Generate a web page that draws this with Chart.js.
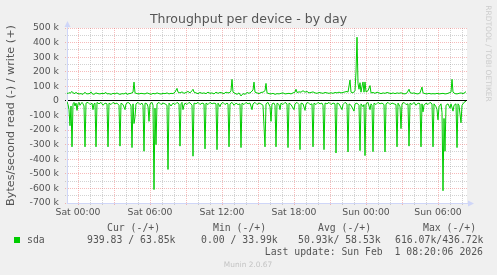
<!DOCTYPE html>
<html>
<head>
<meta charset="utf-8">
<title>Throughput per device - by day</title>
<script src="https://cdn.jsdelivr.net/npm/chart.js@4.4.1/dist/chart.umd.min.js"></script>
<style>
  html, body { margin: 0; padding: 0; background: #f0f0f0; }
  canvas { display: block; }
</style>
</head>
<body>
<canvas id="chart" width="497" height="275"></canvas>
<script>
// time is counted in 5-minute slots from Sat 00:00 (slot 72 = Sat 06:00)
// values in k (bytes/second / 1000), read plotted below zero
const readSlots = [
  -11, -10, -9, -8, -7, -6, -5, -4, -3, -2,
  -1, 0, 1, 2, 4, 5, 6, 7, 8, 10,
  12, 14, 15, 16, 17, 18, 19, 21, 23, 25,
  27, 29, 30, 31, 33, 35, 37, 39, 41, 42,
  43, 45, 47, 48, 50, 52, 53, 54, 55, 56,
  57, 58, 60, 62, 64, 65, 66, 67, 69, 70,
  71, 72, 74, 75, 76, 77, 78, 79, 81, 83,
  85, 87, 89, 90, 91, 93, 95, 97, 99, 101,
  102, 103, 104, 105, 106, 107, 109, 111, 113, 114,
  115, 116, 118, 120, 122, 124, 126, 127, 128, 130,
  132, 134, 136, 138, 139, 140, 142, 143, 145, 147,
  149, 150, 151, 152, 154, 156, 158, 160, 162, 163,
  164, 166, 168, 170, 172, 174, 175, 177, 179, 181,
  183, 185, 187, 188, 190, 192, 193, 194, 196, 197,
  198, 199, 201, 202, 203, 205, 207, 209, 210, 211,
  213, 216, 217, 219, 221, 222, 223, 225, 227, 228,
  230, 232, 234, 235, 236, 238, 240, 242, 244, 245,
  246, 247, 249, 251, 253, 255, 257, 258, 259, 261,
  264, 265, 267, 269, 270, 271, 273, 276, 277, 279,
  281, 282, 283, 285, 286, 287, 288, 290, 292, 293,
  294, 295, 296, 298, 300, 302, 304, 306, 307, 308,
  310, 312, 314, 316, 318, 319, 320, 322, 323, 324,
  326, 328, 330, 331, 332, 334, 336, 338, 340, 342,
  343, 344, 345, 346, 348, 350, 352, 354, 355, 356,
  358, 359, 360, 361, 363, 364, 365, 366, 367, 368,
  370, 372, 373, 375, 376, 378, 379, 380, 381, 383,
  384, 386, 388
];
const readValues = [
  -5, -25, -60, -170, -35, -315, -20, -10, -35, -15,
  -65, -20, -10, -30, -10, -20, -35, -315, -15, -10,
  -25, -15, -60, -20, -15, -315, -10, -20, -10, -30,
  -15, -20, -315, -15, -25, -10, -20, -15, -30, -310,
  -15, -25, -60, -20, -10, -20, -35, -320, -20, -155,
  -110, -20, -10, -25, -15, -30, -345, -15, -20, -40,
  -140, -20, -10, -30, -608, -50, -300, -20, -10, -25,
  -15, -20, -30, -470, -15, -35, -15, -25, -10, -20,
  -310, -20, -10, -60, -30, -15, -25, -10, -20, -30,
  -379, -15, -20, -10, -25, -15, -20, -329, -15, -25,
  -10, -20, -15, -20, -334, -15, -40, -20, -10, -25,
  -15, -20, -315, -20, -10, -30, -15, -25, -20, -320,
  -15, -25, -10, -20, -15, -60, -20, -10, -25, -15,
  -20, -30, -315, -20, -10, -40, -140, -20, -15, -30,
  -315, -15, -25, -60, -15, -25, -10, -20, -320, -15,
  -25, -60, -20, -10, -25, -334, -15, -20, -65, -20,
  -10, -25, -20, -315, -15, -25, -10, -20, -15, -30,
  -334, -15, -20, -10, -25, -15, -20, -357, -15, -20,
  -60, -25, -10, -20, -350, -20, -30, -70, -20, -15,
  -30, -341, -20, -40, -25, -375, -20, -10, -60, -20,
  -30, -348, -15, -25, -10, -20, -15, -25, -350, -20,
  -10, -25, -15, -20, -25, -315, -15, -40, -190, -20,
  -10, -25, -20, -310, -15, -25, -10, -30, -15, -20,
  -315, -20, -75, -30, -15, -25, -10, -20, -315, -20,
  -40, -60, -130, -40, -20, -80, -616, -120, -345, -30,
  -20, -50, -20, -70, -30, -20, -320, -20, -30, -150,
  -30, -10, -1
];
const writeSlots = [
  -11, -10, -9, -8, -6, -5, -3, -2, -1, 1,
  3, 5, 7, 8, 10, 12, 13, 14, 16, 18,
  20, 22, 24, 26, 28, 29, 31, 33, 35, 37,
  39, 40, 42, 44, 46, 48, 49, 51, 53, 55,
  56, 57, 59, 61, 63, 65, 67, 69, 71, 73,
  75, 77, 79, 81, 83, 85, 87, 89, 91, 93,
  95, 97, 99, 100, 102, 104, 106, 108, 110, 112,
  114, 115, 116, 118, 120, 122, 124, 126, 128, 130,
  132, 134, 136, 138, 140, 142, 144, 146, 148, 150,
  152, 153, 154, 155, 157, 159, 161, 163, 165, 167,
  169, 171, 173, 175, 176, 177, 179, 181, 183, 185,
  187, 188, 189, 191, 193, 195, 197, 199, 201, 203,
  205, 207, 209, 211, 213, 215, 217, 218, 219, 221,
  223, 225, 227, 229, 231, 233, 235, 237, 239, 241,
  243, 245, 247, 249, 251, 253, 255, 257, 259, 261,
  263, 265, 267, 269, 270, 272, 273, 275, 277, 278,
  279, 280, 281, 282, 283, 284, 285, 286, 287, 288,
  290, 292, 293, 295, 297, 299, 301, 303, 305, 307,
  309, 311, 313, 315, 317, 319, 321, 323, 325, 327,
  329, 331, 332, 334, 336, 338, 340, 342, 344, 345,
  347, 349, 351, 353, 355, 357, 359, 361, 363, 365,
  367, 369, 371, 373, 374, 375, 377, 379, 381, 383,
  385, 387, 388
];
const writeValues = [
  55, 50, 58, 52, 65, 55, 50, 60, 52, 48,
  50, 45, 60, 50, 48, 52, 62, 50, 45, 55,
  50, 48, 52, 50, 58, 48, 50, 45, 52, 48,
  55, 50, 45, 50, 48, 55, 45, 50, 52, 60,
  129, 55, 50, 48, 52, 50, 48, 55, 50, 45,
  52, 48, 55, 50, 47, 52, 50, 55, 48, 52,
  50, 60, 86, 60, 55, 62, 52, 58, 65, 55,
  70, 80, 60, 55, 50, 58, 52, 55, 50, 60,
  52, 55, 48, 60, 52, 58, 55, 50, 60, 55,
  58, 70, 148, 60, 52, 45, 55, 34, 50, 45,
  58, 52, 60, 75, 129, 60, 55, 50, 58, 60,
  70, 120, 55, 50, 48, 52, 45, 50, 48, 52,
  55, 48, 50, 52, 48, 55, 60, 80, 58, 62,
  60, 70, 60, 65, 55, 58, 62, 55, 52, 58,
  55, 52, 58, 55, 52, 56, 52, 58, 55, 60,
  55, 58, 62, 65, 60, 143, 60, 55, 70, 200,
  436.72, 120, 80, 125, 60, 100, 130, 60, 130, 62,
  70, 105, 55, 58, 52, 60, 55, 50, 55, 52,
  58, 54, 50, 55, 50, 55, 52, 56, 50, 48,
  55, 80, 58, 52, 55, 50, 48, 55, 95, 55,
  50, 48, 52, 48, 50, 48, 52, 48, 50, 52,
  48, 50, 55, 60, 148, 60, 50, 48, 52, 55,
  50, 58, 63.85
];

const xTickSlots = [0, 72, 144, 216, 288, 360];
const xTickLabels = ['Sat 00:00', 'Sat 06:00', 'Sat 12:00', 'Sat 18:00', 'Sun 00:00', 'Sun 06:00'];

const seriesName = 'sda';
const statHeaders = ['Cur (-/+)', 'Min (-/+)', 'Avg (-/+)', 'Max (-/+)'];
const statValues = ['939.83 / 63.85k', '0.00 / 33.99k', '50.93k/ 58.53k', '616.07k/436.72k'];
const lastUpdate = 'Last update: Sun Feb  1 08:20:06 2026';

const GREEN = '#00cc00';
const AXIS = '#cfd6f8';
const MGRID = 'rgba(233, 92, 92, 0.42)';
const GRID = 'rgba(143, 143, 143, 0.4)';
const TEXT = '#555555';
const SANS = 'DejaVu Sans';
const MONO = '"DejaVu Sans Mono"';

function toPoints(slots, values) {
  return slots.map((s, i) => ({ x: s, y: values[i] }));
}

function xGridColor(c) {
  return c.tick && c.tick.value % 36 === 0 ? MGRID : GRID;
}
function yGridColor(c) {
  if (!c.tick) return GRID;
  if (c.tick.value === 0) return '#000000';
  return c.tick.value % 100 === 0 ? MGRID : GRID;
}

// munin look: grey frame, white canvas, axis arrows, legend block underneath
const muninFrame = {
  id: 'muninFrame',
  beforeDraw(chart) {
    const { ctx, chartArea: a } = chart;
    ctx.save();
    ctx.fillStyle = '#f0f0f0';
    ctx.fillRect(0, 0, chart.width, chart.height);
    ctx.fillStyle = '#ffffff';
    ctx.fillRect(a.left, a.top, a.right - a.left, a.bottom - a.top);
    ctx.restore();
  },
  afterDraw(chart) {
    const { ctx, chartArea: a } = chart;
    const x0 = Math.round(a.left) + 0.5;
    const y0 = Math.round(a.bottom) + 0.5;
    ctx.save();

    // axis arrows
    ctx.strokeStyle = AXIS;
    ctx.fillStyle = AXIS;
    ctx.lineWidth = 1;
    ctx.beginPath();
    ctx.moveTo(x0, a.top);
    ctx.lineTo(x0, a.top - 2);
    ctx.moveTo(a.right, y0);
    ctx.lineTo(a.right + 2, y0);
    ctx.stroke();
    ctx.beginPath();
    ctx.moveTo(x0, a.top - 7);
    ctx.lineTo(x0 - 3, a.top - 1);
    ctx.lineTo(x0 + 3, a.top - 1);
    ctx.closePath();
    ctx.fill();
    ctx.beginPath();
    ctx.moveTo(a.right + 7, y0);
    ctx.lineTo(a.right + 1, y0 - 3);
    ctx.lineTo(a.right + 1, y0 + 3);
    ctx.closePath();
    ctx.fill();

    // legend
    ctx.fillStyle = TEXT;
    ctx.font = '9.8px ' + MONO;
    ctx.textBaseline = 'alphabetic';
    ctx.textAlign = 'left';
    const headerX = [107, 213, 318, 423];
    const valueX = [87, 201, 298, 395];
    statHeaders.forEach((h, i) => ctx.fillText(h, headerX[i], 231));
    ctx.fillText(seriesName, 27, 243);
    statValues.forEach((v, i) => ctx.fillText(v, valueX[i], 243));
    ctx.textAlign = 'right';
    ctx.fillText(lastUpdate, 483, 255);

    ctx.fillStyle = GREEN;
    ctx.fillRect(14, 237, 6, 6);

    // footer and watermark
    ctx.fillStyle = '#c4c4c4';
    ctx.font = '7.4px ' + SANS;
    ctx.textAlign = 'center';
    ctx.fillText('Munin 2.0.67', 248, 267);

    ctx.translate(487.5, 53.5);
    ctx.rotate(Math.PI / 2);
    ctx.fillStyle = '#cccccc';
    ctx.font = '7.5px ' + SANS;
    ctx.textBaseline = 'middle';
    ctx.fillText('RRDTOOL / TOBI OETIKER', 0, 0);
    ctx.restore();
  }
};

const ctx = document.getElementById('chart').getContext('2d');
new Chart(ctx, {
  type: 'line',
  data: {
    datasets: [
      {
        label: 'sda read',
        data: toPoints(readSlots, readValues),
        borderColor: GREEN,
        borderWidth: 1,
        pointRadius: 0,
        tension: 0,
        fill: false
      },
      {
        label: 'sda write',
        data: toPoints(writeSlots, writeValues),
        borderColor: GREEN,
        borderWidth: 1,
        pointRadius: 0,
        tension: 0,
        fill: false
      }
    ]
  },
  options: {
    responsive: false,
    animation: false,
    devicePixelRatio: 1,
    events: [],
    layout: { padding: 0 },
    plugins: {
      legend: { display: false },
      tooltip: { enabled: false },
      title: {
        display: true,
        text: 'Throughput per device - by day',
        color: TEXT,
        font: { family: SANS, size: 12.5, weight: 'normal', lineHeight: 1.2 },
        padding: { top: 12, bottom: 1 }
      }
    },
    scales: {
      x: {
        type: 'linear',
        min: -11,
        max: 389,
        afterBuildTicks: s => {
          const t = [];
          for (let v = 0; v <= 384; v += 12) t.push({ value: v });
          s.ticks = t;
        },
        afterFit: s => { s.height = 72; },
        grid: {
          color: xGridColor,
          tickColor: xGridColor,
          tickLength: 3,
          tickBorderDash: [1, 1],
          lineWidth: 1
        },
        border: { color: AXIS, dash: c => (c.type === 'tick' ? [1, 1] : []) },
        ticks: {
          autoSkip: false,
          maxRotation: 0,
          padding: 1,
          color: TEXT,
          font: { family: SANS, size: 9.3 },
          callback: v => {
            const i = xTickSlots.indexOf(v);
            return i < 0 ? '' : xTickLabels[i];
          }
        }
      },
      y: {
        type: 'linear',
        min: -700,
        max: 500,
        afterFit: s => { s.width = 67; },
        grid: {
          color: yGridColor,
          tickColor: yGridColor,
          tickLength: 2,
          tickBorderDash: [1, 1],
          lineWidth: 1
        },
        border: {
          color: AXIS,
          dash: c => (c.type === 'tick' && c.tick.value !== 0 ? [1, 1] : [])
        },
        title: {
          display: true,
          text: 'Bytes/second read (-) / write (+)',
          color: TEXT,
          font: { family: SANS, size: 11.2 },
          padding: { top: 4, bottom: 0 }
        },
        ticks: {
          stepSize: 50,
          autoSkip: false,
          padding: 6,
          color: TEXT,
          font: { family: SANS, size: 9.3 },
          callback: v => (v % 100 ? '' : (v === 0 ? '0' : v + ' k'))
        }
      },
      right: {
        type: 'linear',
        axis: 'y',
        position: 'right',
        afterFit: s => { s.width = 30; },
        grid: { display: false },
        border: { display: false },
        ticks: { display: false }
      }
    }
  },
  plugins: [muninFrame]
});
</script>
</body>
</html>
